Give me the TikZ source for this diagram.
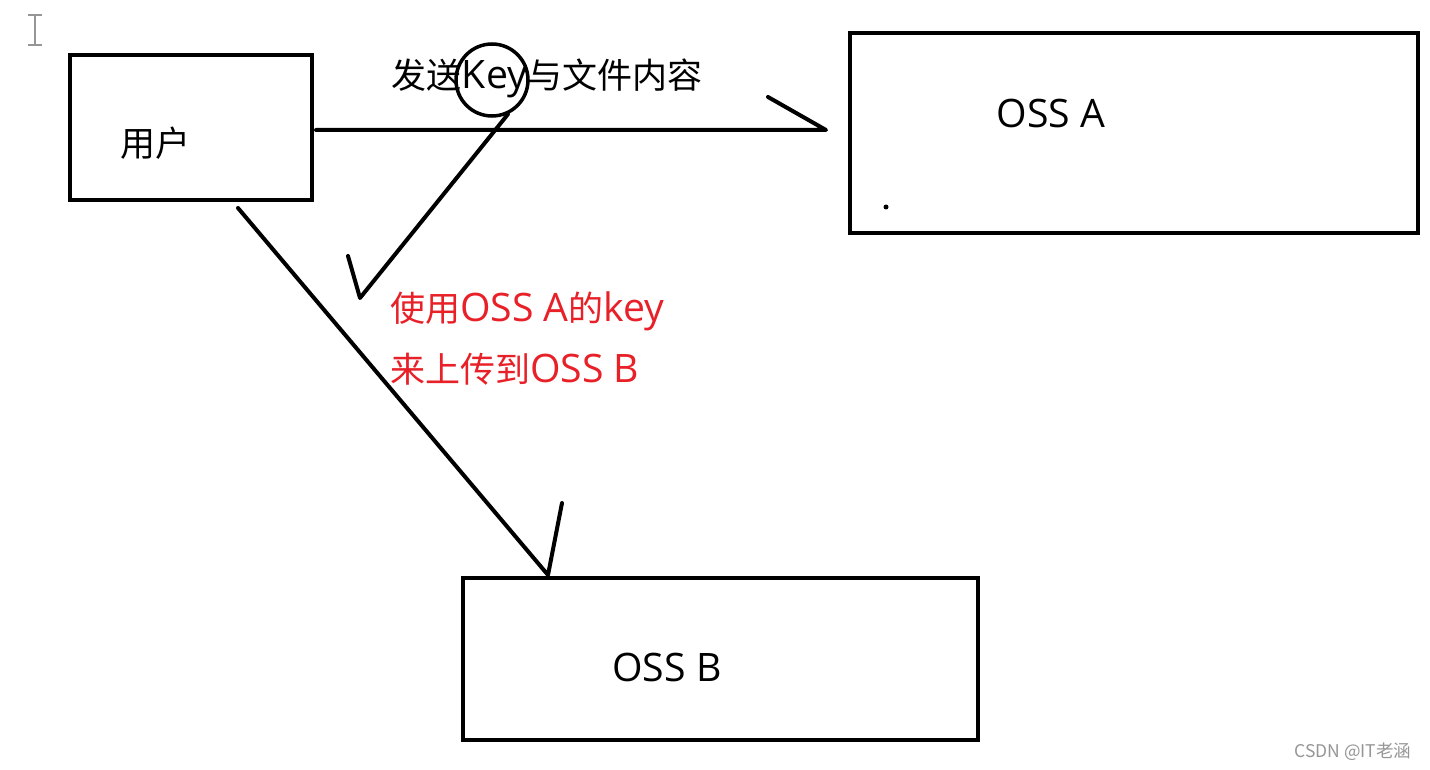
\documentclass[tikz,border=0pt]{standalone}
\usepackage{fontspec}
\setmainfont{Noto Sans CJK SC}
\newfontfamily\lat[Scale=1.12]{Open Sans}
\definecolor{redtxt}{RGB}{232,32,40}
\definecolor{cursorgray}{RGB}{150,150,150}
\definecolor{wmgray}{RGB}{150,150,150}
\begin{document}
\begin{tikzpicture}[x=1pt,y=-1pt,
  box/.style={draw,line width=4pt,inner sep=0pt,outer sep=0pt},
  conn/.style={line width=4pt,line cap=round,line join=round},
  lbl/.style={inner sep=0pt,font=\fontsize{35}{42}\selectfont},
  redlbl/.style={lbl,text=redtxt,anchor=west}]
\useasboundingbox (0,0) rectangle (1430,770);
\fill[white] (0,0) rectangle (1430,770);
% cursor
\draw[cursorgray,line width=2pt] (35,15) -- (35,45) (28,15) -- (42,15) (28,45) -- (42,45);
% boxes
\node[box,minimum width=242pt,minimum height=145pt] (user) at (191,127.5) {};
\node[box,minimum width=568pt,minimum height=200pt] (ossa) at (1134,133) {};
\node[box,minimum width=515pt,minimum height=162pt] (ossb) at (720.5,659) {};
% labels
\node[lbl] (userlbl) at (155,143) {用户};
\node[lbl] (ossalbl) at (1051,113) {\lat OSS A};
\node[lbl] (ossblbl) at (667,667) {\lat OSS B};
\node[lbl] (sendlbl) at (547,78) {发送{\lat Key}与文件内容};
\node[redlbl] (red1) at (390,311) {使用{\lat OSS A}的{\lat key}};
\node[redlbl] (red2) at (390,369) {来上传到{\lat OSS B}};
\fill (886,207) circle (2.5pt);
% key circle
\node[draw,circle,line width=3.5pt,minimum size=72pt,inner sep=0pt] (keyc) at (492,80) {};
% connectors
\coordinate (a1) at (316,130);
\coordinate (a2) at (826,130);
\coordinate (a3) at (768,97);
\draw[conn] (a1) -- (a2) -- (a3);
\coordinate (b2) at (360,298);
\coordinate (b3) at (348,256);
\draw[conn] (keyc.-65) -- (b2) -- (b3);
\coordinate (c1) at (238,208);
\coordinate (c2) at (548,575);
\coordinate (c3) at (562,503);
\draw[conn] (c1) -- (c2) -- (c3);
% watermark
\node[inner sep=0pt,text=wmgray,font=\fontsize{17.5}{20}\selectfont] (wm) at (1353,752) {CSDN @IT老涵};
\end{tikzpicture}
\end{document}
